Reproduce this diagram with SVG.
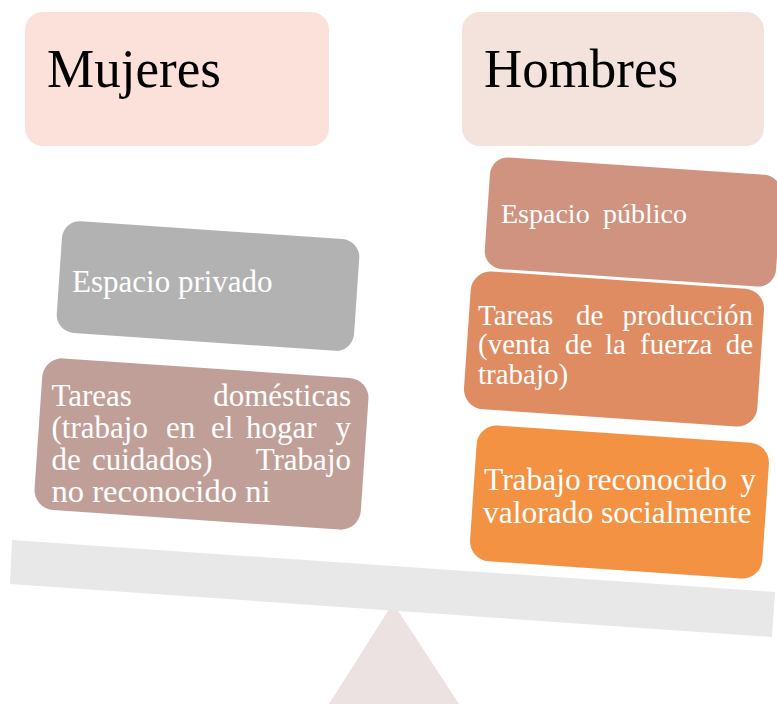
<svg xmlns="http://www.w3.org/2000/svg" width="777" height="704" viewBox="0 0 777 704">
<style>
.t{font-family:"Liberation Serif","Times New Roman",serif;fill:#ffffff}
.h{font-family:"Liberation Serif","Times New Roman",serif;fill:#000000;font-size:54px}
</style>
<rect width="777" height="704" fill="#ffffff"/>
<g id="fulcrum"><polygon points="393,603 329,704 459,704" fill="#ede2e2"/></g>
<g id="beam"><polygon points="12,540 775,592 772,637 10,584" fill="#e8e8e8"/></g>
<g id="mujeres">
<rect x="25" y="12" width="304" height="134" rx="18" fill="#fbe1da"/>
<text class="h" x="47" y="87" textLength="174" lengthAdjust="spacingAndGlyphs">Mujeres</text>
</g>
<g id="hombres">
<rect x="462" y="12" width="302" height="134" rx="18" fill="#f4e2dc"/>
<text class="h" x="484" y="87" textLength="194" lengthAdjust="spacingAndGlyphs">Hombres</text>
</g>
<g id="espacio-privado">
<rect x="-149" y="-56" width="298" height="112" rx="18" fill="#b2b2b2" transform="translate(208,286) rotate(3.9)"/>
<text class="t" x="72" y="292" font-size="31">Espacio privado</text>
</g>
<g id="tareas-domesticas">
<rect x="-163.5" y="-76" width="327" height="152" rx="20" fill="#c09f99" transform="translate(201.5,444) rotate(3.9)"/>
<g class="t" font-size="31">
<text x="51.5" y="406">Tareas</text>
<text x="351" y="406" text-anchor="end">domésticas</text>
<text x="51.5" y="438">(trabajo</text>
<text x="166" y="438">en</text>
<text x="211" y="438">el</text>
<text x="246" y="438">hogar</text>
<text x="351" y="438" text-anchor="end">y</text>
<text x="51.5" y="470">de</text>
<text x="92" y="470">cuidados)</text>
<text x="351" y="470" text-anchor="end">Trabajo</text>
<text x="51.5" y="502" textLength="219" lengthAdjust="spacingAndGlyphs">no reconocido ni</text>
</g>
</g>
<g id="espacio-publico">
<rect x="-146" y="-56" width="292" height="112" rx="18" fill="#d09380" transform="translate(633,222) rotate(3.9)"/>
<g class="t" font-size="28">
<text x="501" y="223">Espacio</text>
<text x="603" y="223">público</text>
</g>
</g>
<g id="tareas-produccion">
<rect x="-147" y="-69" width="294" height="138" rx="20" fill="#e08c63" transform="translate(614,349) rotate(3.9)"/>
<g class="t" font-size="29">
<text x="478" y="325">Tareas</text>
<text x="576" y="325">de</text>
<text x="753" y="325" text-anchor="end">producción</text>
<text x="478" y="354">(venta</text>
<text x="565" y="354">de</text>
<text x="605" y="354">la</text>
<text x="640" y="354">fuerza</text>
<text x="753" y="354" text-anchor="end">de</text>
<text x="478" y="384">trabajo)</text>
</g>
</g>
<g id="trabajo-reconocido">
<rect x="-146.5" y="-68" width="293" height="136" rx="20" fill="#f29242" transform="translate(619.5,502) rotate(3.9)"/>
<g class="t" font-size="31.5">
<text x="484" y="490">Trabajo</text>
<text x="587" y="490">reconocido</text>
<text x="756" y="490" text-anchor="end">y</text>
<text x="483" y="523">valorado socialmente</text>
</g>
</g>
<g id="connectors"></g>
</svg>
